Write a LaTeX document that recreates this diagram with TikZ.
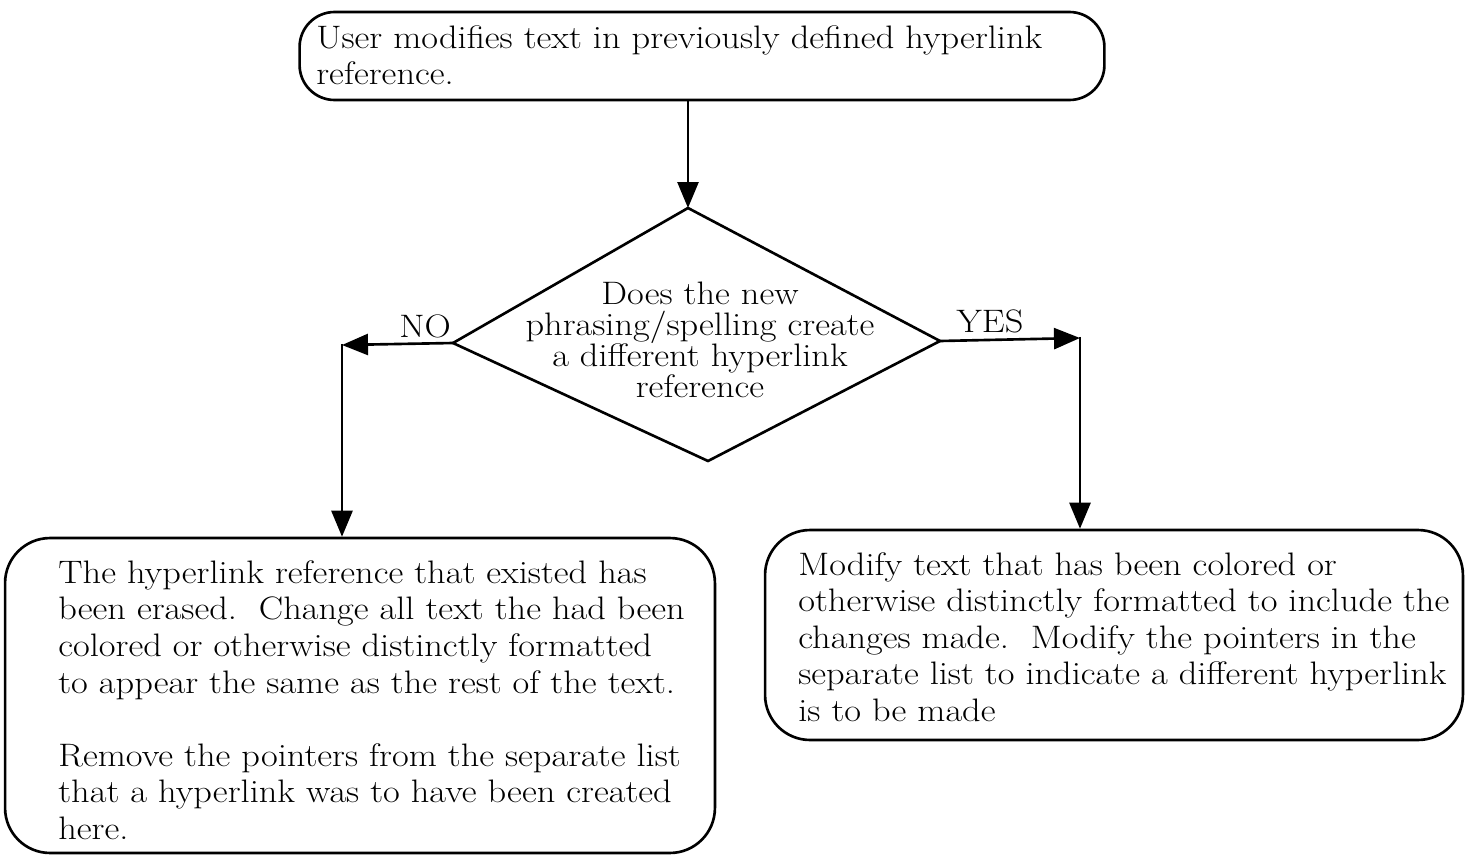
\documentclass[tikz,border=0pt]{standalone}
\usepackage{fontspec}
\setmainfont{Latin Modern Roman}[FakeStretch=1.12]
\usetikzlibrary{arrows.meta}
\begin{document}
\begin{tikzpicture}[x=0.02cm,y=-0.02cm,
  box/.style={draw=black, line width=1.5pt, rounded corners=0.9cm, inner sep=0pt},
  btext/.style={align=left, inner sep=0pt, anchor=west, font=\fontsize{18.5}{20.8}\selectfont},
  dtext/.style={align=center, inner sep=0pt, font=\fontsize{18.5}{17.6}\selectfont},
  lbl/.style={inner sep=1pt, font=\fontsize{18.5}{20}\selectfont},
  edge/.style={line width=1.5pt},
  arr/.style={line width=1.5pt, -{Triangle[length=0.52cm, width=0.42cm]}}]
\useasboundingbox (0,0) rectangle (1465,856);

% process boxes
\node[box, minimum width=16.1cm, minimum height=1.76cm, rounded corners=0.7cm] (top) at (702,56) {};
\node[box, minimum width=14.2cm, minimum height=6.3cm] (left) at (360,695.5) {};
\node[box, minimum width=13.96cm, minimum height=4.2cm] (right) at (1114,635) {};

% box texts
\node[btext] (toptext) at (316,55)
  {User modifies text in previously defined hyperlink\\reference.};
\node[btext] (lefttext) at (58,700)
  {The hyperlink reference that existed has\\
   been erased.\ \ Change all text the had been\\
   colored or otherwise distinctly formatted\\
   to appear the same as the rest of the text.\\[20.8pt]
   Remove the pointers from the separate list\\
   that a hyperlink was to have been created\\
   here.};
\node[btext] (righttext) at (798,637)
  {Modify text that has been colored or\\
   otherwise distinctly formatted to include the\\
   changes made.\ \ Modify the pointers in the\\
   separate list to indicate a different hyperlink\\
   is to be made};

% decision diamond
\coordinate (dT) at (688,208);
\coordinate (dR) at (940,341);
\coordinate (dB) at (708,461);
\coordinate (dL) at (453,343);
\draw[edge, line join=miter] (dT) -- (dR) -- (dB) -- (dL) -- cycle;
\node[dtext] (question) at (700,340)
  {Does the new\\phrasing/spelling create\\a different hyperlink\\reference};

% branch corners
\coordinate (cL) at (342,345);
\coordinate (cR) at (1080,338);

% connectors
\draw[arr] (dT |- top.south) -- (dT);
\draw[arr] (dL) -- (cL);
\draw[arr] ([yshift=0.7pt]cL) -- (cL |- left.north);
\draw[arr] (dR) -- (cR);
\draw[arr] ([yshift=0.7pt]cR) -- (cR |- right.north);

% branch labels
\node[lbl, anchor=base] (no) at (425,337) {NO};
\node[lbl, anchor=base] (yes) at (990,332) {YES};
\end{tikzpicture}
\end{document}
